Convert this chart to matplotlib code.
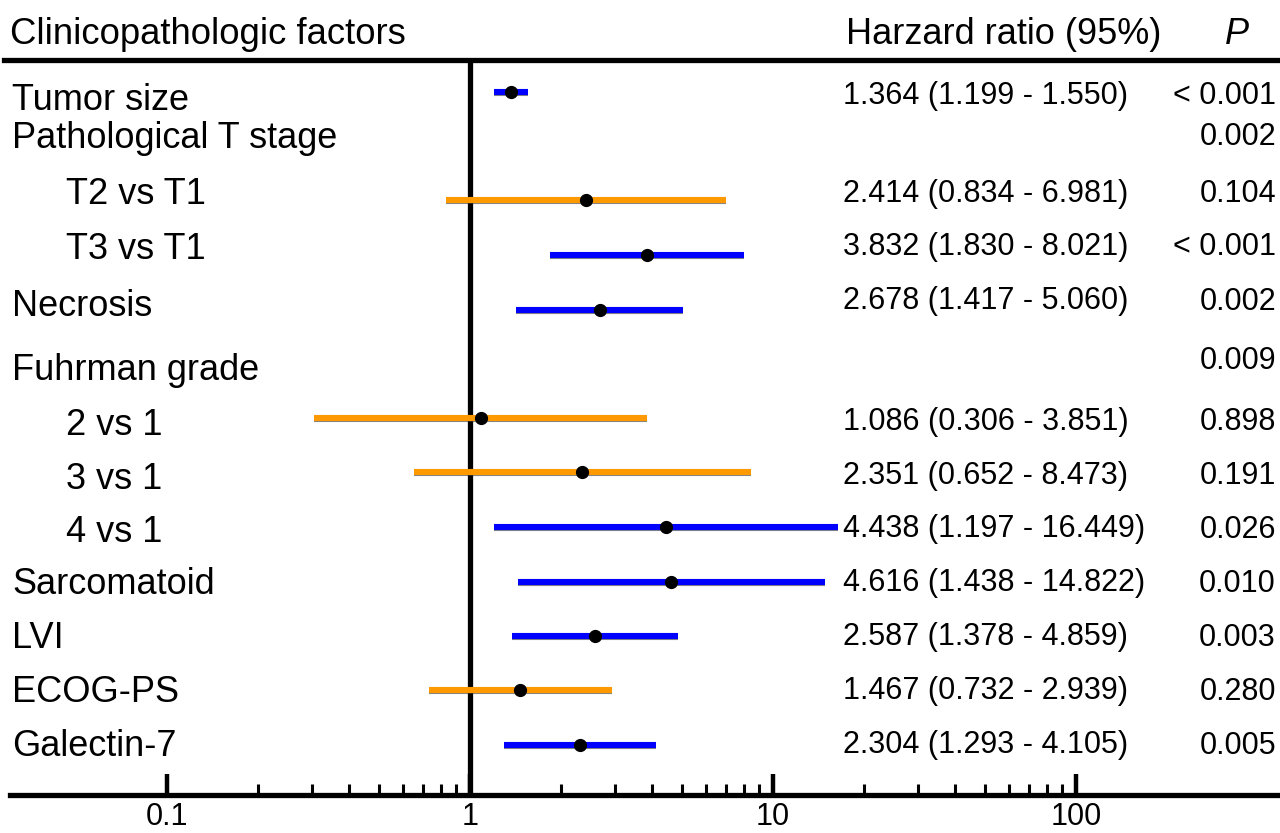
import numpy as np
import matplotlib
matplotlib.use("Agg")
import matplotlib.pyplot as plt
import matplotlib.patheffects as pe
from matplotlib.ticker import FixedLocator, NullFormatter, FixedFormatter

plt.rcParams['font.family'] = ['Liberation Sans', 'DejaVu Sans']

# ---------------- data ----------------
factors = ["Tumor size", "Pathological T stage", "T2 vs T1", "T3 vs T1", "Necrosis",
           "Fuhrman grade", "2 vs 1", "3 vs 1", "4 vs 1", "Sarcomatoid", "LVI",
           "ECOG-PS", "Galectin-7"]
indent = [False, False, True, True, False, False, True, True, True, False, False, False, False]
hr = [1.364, None, 2.414, 3.832, 2.678, None, 1.086, 2.351, 4.438, 4.616, 2.587, 1.467, 2.304]
ci_low = [1.199, None, 0.834, 1.830, 1.417, None, 0.306, 0.652, 1.197, 1.438, 1.378, 0.732, 1.293]
ci_high = [1.550, None, 6.981, 8.021, 5.060, None, 3.851, 8.473, 16.449, 14.822, 4.859, 2.939, 4.105]
hr_text = ["1.364 (1.199 - 1.550)", "", "2.414 (0.834 - 6.981)", "3.832 (1.830 - 8.021)",
           "2.678 (1.417 - 5.060)", "", "1.086 (0.306 - 3.851)", "2.351 (0.652 - 8.473)",
           "4.438 (1.197 - 16.449)", "4.616 (1.438 - 14.822)", "2.587 (1.378 - 4.859)",
           "1.467 (0.732 - 2.939)", "2.304 (1.293 - 4.105)"]
p_text = ["< 0.001", "0.002", "0.104", "< 0.001", "0.002", "0.009", "0.898", "0.191",
          "0.026", "0.010", "0.003", "0.280", "0.005"]
major_ticks = [0.1, 1, 10, 100]
major_labels = ["0.1", "1", "10", "100"]

# ---------------- layout (pixel rows) ----------------
W, H = 1280, 833
bar_y = [92, None, 200, 255, 310, None, 418, 472, 527, 582, 636, 690, 745]
label_y = [96, 134, 190, 245, 302, 366, 421, 475, 528, 580, 634, 688, 742]
num_y = [92, 133, 190, 243, 298, 357, 418, 472, 526, 580, 634, 688, 742]
axis_y, top_y = 795, 60
x_one, decade = 470.0, 303.0

def px_to_val(px):
    return 10 ** ((px - x_one) / decade)

BLUE = '#0000FF'
ORANGE = '#FF9900'

fig = plt.figure(figsize=(W / 100, H / 100), dpi=100)
ax = fig.add_axes([0, (H - axis_y) / H, 1, (axis_y - top_y) / H])
ax.set_xscale('log')
ax.set_xlim(px_to_val(0), px_to_val(W))
ax.set_ylim(axis_y, top_y)
ax.patch.set_alpha(0)

for s in ['left', 'right']:
    ax.spines[s].set_visible(False)
ax.spines['bottom'].set_linewidth(3.8)
ax.spines['top'].set_linewidth(3.8)
ax.spines['bottom'].set_bounds(px_to_val(10), px_to_val(W))
ax.spines['top'].set_bounds(px_to_val(4), px_to_val(W))
ax.set_yticks([])

ax.xaxis.set_major_locator(FixedLocator(major_ticks))
ax.xaxis.set_major_formatter(FixedFormatter(major_labels))
minors = [m * d for d in [0.1, 1, 10] for m in range(2, 10)]
ax.xaxis.set_minor_locator(FixedLocator(minors))
ax.xaxis.set_minor_formatter(NullFormatter())
ax.tick_params(axis='x', which='major', direction='in', length=15, width=3.2,
               labelsize=22, pad=5, top=False)
ax.tick_params(axis='x', which='minor', direction='in', length=8, width=2.2, top=False)

ax.axvline(1, color='black', lw=3.8, zorder=2)

for i in range(len(factors)):
    if hr[i] is None:
        continue
    sig = ci_low[i] > 1
    col = BLUE if sig else ORANGE
    ax.hlines(bar_y[i], ci_low[i], ci_high[i], color=col, lw=4.4, zorder=3,
              path_effects=[pe.SimpleLineShadow(offset=(0, -0.8), shadow_color='#333333', alpha=0.6),
                            pe.Normal()])
    ax.plot(hr[i], bar_y[i], 'o', color='black', ms=8.5, zorder=4)

# ---------------- text overlay ----------------
tx = fig.add_axes([0, 0, 1, 1])
tx.set_xlim(0, W)
tx.set_ylim(H, 0)
tx.axis('off')
tx.patch.set_alpha(0)

tx.text(10, 30, "Clinicopathologic factors", fontsize=26.3, va='center_baseline', ha='left')
tx.text(846, 30, "Harzard ratio (95%)", fontsize=26, va='center_baseline', ha='left')
tx.text(1237, 30, "P", fontsize=26, style='italic', va='center_baseline', ha='center')

for i, name in enumerate(factors):
    x = 66 if indent[i] else 12
    tx.text(x, label_y[i], name, fontsize=26, va='center_baseline', ha='left')
    if hr_text[i]:
        tx.text(843, num_y[i], hr_text[i], fontsize=22, va='center_baseline', ha='left')
    tx.text(1276, num_y[i], p_text[i], fontsize=22, va='center_baseline', ha='right')

fig.savefig("out.png", dpi=100)
